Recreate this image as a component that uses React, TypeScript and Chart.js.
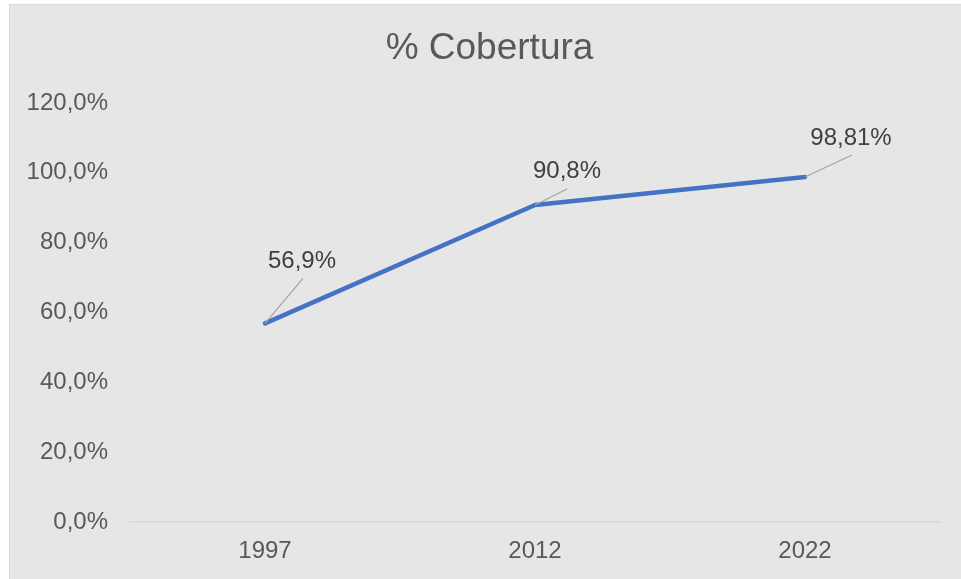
import React, { useEffect, useRef } from "react";
import { Chart, registerables } from "chart.js";

Chart.register(...registerables);

const categories: string[] = ["1997", "2012", "2022"];
const coverage: number[] = [0.569, 0.908, 0.9881];
const valueLabels: string[] = ["56,9%", "90,8%", "98,81%"];
const yTicks: number[] = [0, 0.2, 0.4, 0.6, 0.8, 1.0, 1.2];
const chartTitle = "% Cobertura";

// label placement (style): offsets of label centre and leader-line end from point
const labelOffsets: { dx: number; dy: number; lx: number; ly: number }[] = [
  { dx: 37, dy: -62, lx: 38, ly: -45 },
  { dx: 32, dy: -34, lx: 32, ly: -16 },
  { dx: 46, dy: -39, lx: 47, ly: -22 },
];

const FONT = "'Liberation Sans', Arial, sans-serif";

const formatPct = (v: number) => (v * 100).toFixed(1).replace(".", ",") + "%";

const dataLabelPlugin = {
  id: "dataLabelsLeader",
  afterDatasetsDraw(chart: any) {
    const ctx = chart.ctx;
    const meta = chart.getDatasetMeta(0);
    ctx.save();
    meta.data.forEach((pt: any, i: number) => {
      const o = labelOffsets[i];
      ctx.strokeStyle = "#a6a6a6";
      ctx.lineWidth = 1.3;
      ctx.beginPath();
      ctx.moveTo(pt.x, pt.y);
      ctx.lineTo(pt.x + o.lx, pt.y + o.ly);
      ctx.stroke();
      ctx.fillStyle = "#404040";
      ctx.font = `24px ${FONT}`;
      ctx.textAlign = "center";
      ctx.textBaseline = "middle";
      ctx.fillText(valueLabels[i], pt.x + o.dx, pt.y + o.dy);
    });
    ctx.restore();
  },
};

const titlePlugin = {
  id: "centeredTitle",
  afterDraw(chart: any) {
    const ctx = chart.ctx;
    ctx.save();
    ctx.fillStyle = "#595959";
    ctx.font = `37px ${FONT}`;
    ctx.textAlign = "center";
    ctx.textBaseline = "middle";
    ctx.fillText(chartTitle, 479.5, 44);
    ctx.restore();
  },
};

export default function App() {
  const canvasRef = useRef<HTMLCanvasElement | null>(null);

  useEffect(() => {
    if (!canvasRef.current) return;
    const chart = new Chart(canvasRef.current, {
      type: "line",
      data: {
        labels: categories,
        datasets: [
          {
            data: coverage,
            borderColor: "#4472C4",
            backgroundColor: "#4472C4",
            borderWidth: 4.5,
            borderCapStyle: "round",
            borderJoinStyle: "round",
            pointRadius: 0,
            pointHoverRadius: 0,
            tension: 0,
          },
        ],
      },
      options: {
        animation: false,
        responsive: true,
        maintainAspectRatio: false,
        layout: { padding: { left: 0, right: 21, top: 98, bottom: 0 } },
        plugins: {
          legend: { display: false },
          tooltip: { enabled: false },
          title: { display: false },
        },
        scales: {
          x: {
            type: "category",
            offset: true,
            grid: { display: false, drawTicks: false },
            border: { display: true, color: "#d9d9d9", width: 1.5 },
            ticks: {
              color: "#595959",
              font: { family: FONT, size: 24 },
              padding: 15,
              maxRotation: 0,
            },
            afterFit: (s: any) => {
              s.height = 57;
            },
          },
          y: {
            min: 0,
            max: 1.2,
            afterBuildTicks: (s: any) => {
              s.ticks = yTicks.map((v) => ({ value: v }));
            },
            grid: { display: false, drawTicks: false },
            border: { display: false },
            ticks: {
              color: "#595959",
              font: { family: FONT, size: 24 },
              padding: 22,
              callback: (v: any) => formatPct(Number(v)),
            },
            afterFit: (s: any) => {
              s.width = 120;
            },
          },
        },
      },
      plugins: [dataLabelPlugin, titlePlugin],
    });
    return () => chart.destroy();
  }, []);

  return (
    <div
      style={{
        position: "fixed",
        left: 9,
        top: 4,
        width: 953,
        height: 576,
        boxSizing: "border-box",
        border: "1px solid #d9d9d9",
        background: "#e6e6e6",
      }}
    >
      <div style={{ position: "relative", width: 951, height: 574 }}>
        <canvas ref={canvasRef} />
      </div>
    </div>
  );
}
